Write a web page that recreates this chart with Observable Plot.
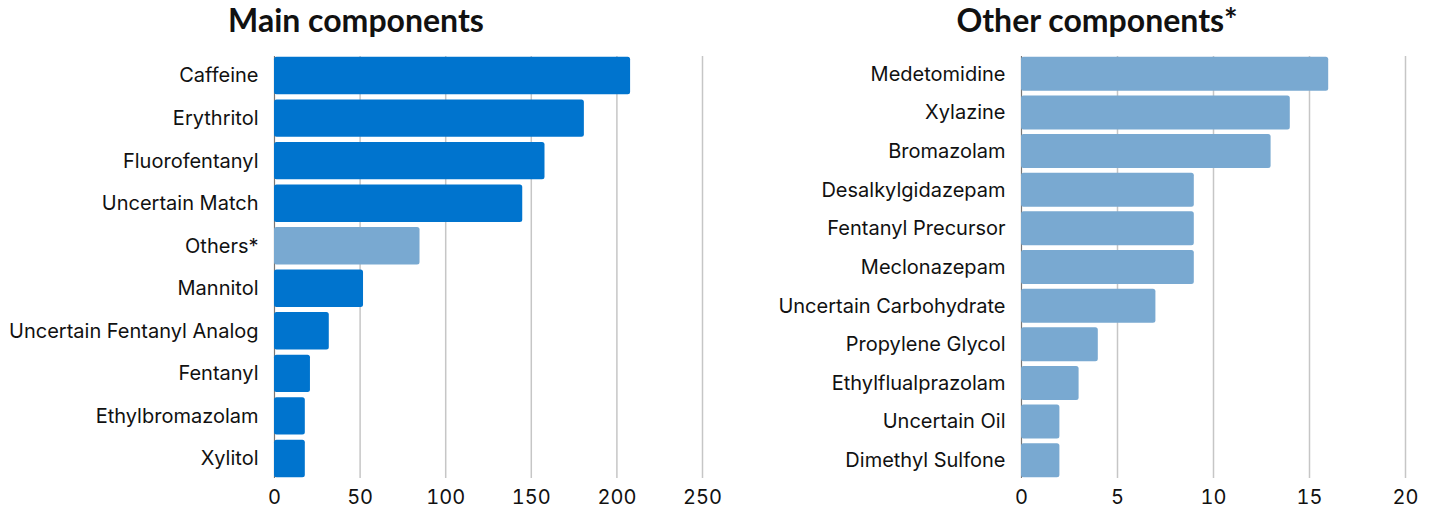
<!DOCTYPE html>
<html>
<head>
<meta charset="utf-8">
<script src="https://cdn.jsdelivr.net/npm/d3@7"></script>
<script src="https://cdn.jsdelivr.net/npm/@observablehq/plot@0.6"></script>
<style>
  html, body { margin: 0; padding: 0; background: #fff; }
  body { width: 1431px; height: 510px; position: relative; overflow: hidden; font-family: Inter, "Noto Sans", sans-serif; }
  .panel { position: absolute; top: 0; }
  .title { position: absolute; top: 0; left: 0; right: 0; text-align: center; font-family: Lato, sans-serif; font-weight: 700; font-size: 32px; color: #111; line-height: 40px; }
  .panel svg { position: absolute; top: 40px; left: 0; overflow: visible; }
</style>
</head>
<body>
<div id="left" class="panel" style="left:0;width:715px;height:510px;"><div class="title" style="left:-3px">Main components</div></div>
<div id="right" class="panel" style="left:715px;width:716px;height:510px;"><div class="title" style="left:24px;right:-24px">Other components*</div></div>
<script>
const mainNames = ["Caffeine","Erythritol","Fluorofentanyl","Uncertain Match","Others*","Mannitol","Uncertain Fentanyl Analog","Fentanyl","Ethylbromazolam","Xylitol"];
const mainValues = [208,181,158,145,85,52,32,21,18,18];
const mainTicks = [0,50,100,150,200,250];

const otherNames = ["Medetomidine","Xylazine","Bromazolam","Desalkylgidazepam","Fentanyl Precursor","Meclonazepam","Uncertain Carbohydrate","Propylene Glycol","Ethylflualprazolam","Uncertain Oil","Dimethyl Sulfone"];
const otherValues = [16,14,13,9,9,9,7,4,3,2,2];
const otherTicks = [0,5,10,15,20];

const dark = "#0074CE";
const light = "#79A9D1";

function makeChart({names, values, ticks, domainMax, width, marginLeft, marginRight, colorFn}) {
  const data = names.map((n, i) => ({name: n, value: values[i]}));
  return Plot.plot({
    width, height: 470,
    marginTop: 16, marginBottom: 32, marginLeft, marginRight,
    style: {fontFamily: "Inter, 'Noto Sans', sans-serif", fontSize: "20px", color: "#111", background: "transparent"},
    x: {domain: [0, domainMax], ticks, label: null, tickSize: 0, tickPadding: 11},
    y: {domain: names, label: null, paddingInner: 0.12, paddingOuter: 0.02, round: false, tickSize: 0, tickPadding: 16},
    marks: [
      Plot.ruleX(ticks.filter(t => t > 0), {stroke: "#c6c6c6", strokeWidth: 1.5}),
      Plot.ruleX([0], {stroke: "#777", strokeWidth: 1.2}),
      Plot.barX(data, {y: "name", x: "value", fill: d => colorFn(d), rx: 2.5}),
      Plot.axisX({ticks, tickSize: 0, tickPadding: 11, label: null, fontSize: 20}),
      Plot.axisY({tickSize: 0, tickPadding: 16, label: null, fontSize: 20})
    ]
  });
}

document.getElementById("left").appendChild(makeChart({
  names: mainNames, values: mainValues, ticks: mainTicks, domainMax: 250,
  width: 715, marginLeft: 274, marginRight: 13,
  colorFn: d => d.name === "Others*" ? light : dark
}));
document.getElementById("right").appendChild(makeChart({
  names: otherNames, values: otherValues, ticks: otherTicks, domainMax: 20,
  width: 716, marginLeft: 306, marginRight: 26,
  colorFn: d => light
}));
</script>
</body>
</html>
